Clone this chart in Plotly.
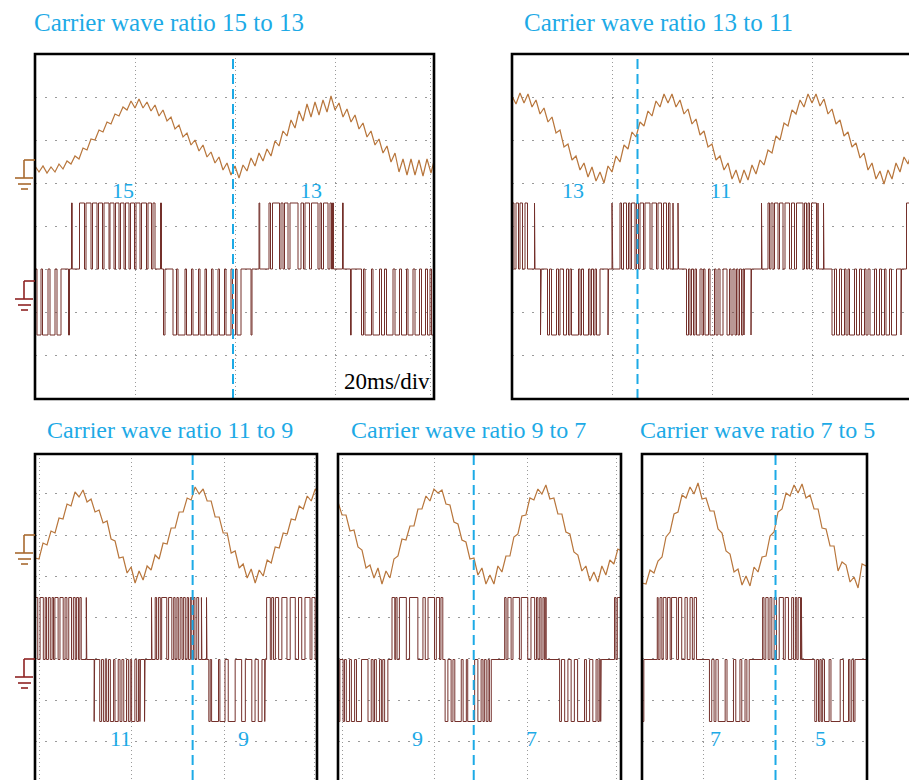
import numpy as np
import plotly.graph_objects as go

W, H = 909, 780

# ---------------- data ----------------
titles = ["Carrier wave ratio 15 to 13", "Carrier wave ratio 13 to 11",
          "Carrier wave ratio 11 to 9", "Carrier wave ratio 9 to 7",
          "Carrier wave ratio 7 to 5"]
ratio_labels = [("15", "13"), ("13", "11"), ("11", "9"), ("9", "7"), ("7", "5")]
ratio_label_t = [(17.6, 55.2), (12.2, 41.6), (18.4, 45.0), (17.2, 41.9), (15.8, 38.7)]
switch_t = [39.6, 25.1, 34.1, 29.4, 28.9]          # ms, carrier-ratio change instant
time_per_div = "20ms/div"

# current traces (screen units above frame bottom), sampled every cur_dt ms
cur_dt = [0.8, 0.8, 0.866, 0.866, 0.866]
cur1 = [233,227,233,226,232,227,235,230,238,235,
        243,240,251,249,260,259,269,267,277,275,
        285,283,292,289,298,291,300,291,297,288,
        294,283,289,278,282,270,274,262,266,254,
        259,248,254,242,247,236,242,229,236,224,
        233,221,234,228,241,233,246,238,250,243,
        258,253,268,263,279,271,288,278,295,282,
        297,284,299,287,303,289,296,282,290,277,
        284,270,276,262,268,254,260,246,253,237,
        246,227,240,224,240,224,239,223,240,226,
        242]
cur2 = [303,295,306,296,305,292,299,285,291,277,
        282,266,269,252,255,239,243,229,236,222,
        232,218,227,216,233,227,243,237,254,250,
        267,262,277,273,288,283,298,292,305,296,
        305,292,299,285,290,275,280,264,268,252,
        255,239,243,229,236,220,229,216,229,219,
        234,225,239,234,249,246,263,259,276,273,
        289,285,299,292,305,296,305,293,300,285,
        290,275,279,263,267,252,256,241,246,229,
        236,220,228,215,229,220,236,227,242,235,
        248]
cur3 = [227,226,242,240,254,252,267,266,281,279,
        293,288,295,283,286,273,275,262,264,246,
        244,227,228,212,218,202,214,205,219,215,
        230,226,242,241,257,257,273,273,287,285,
        298,291,296,284,284,268,268,252,252,232,
        234,217,221,207,216,202,215,209,225,222,
        238,237,252,251,266,265,279,276,289,284,
        296,291]
cur4 = [283,270,270,254,255,238,235,217,220,207,
        217,201,214,207,226,229,246,245,259,259,
        276,276,289,284,296,292,295,281,280,263,
        261,245,243,226,227,210,217,201,210,201,
        219,213,229,229,248,251,269,270,287,285,
        296,291,300,286,287,271,271,253,251,233,
        230,214,219,204,213,203,219,210,225,221,
        236,234]
cur5 = [202,201,215,212,224,228,248,253,271,273,
        290,287,298,291,302,286,287,274,274,256,
        252,234,231,213,216,200,209,199,218,213,
        228,229,249,253,273,276,292,289,300,292,
        301,287,290,276,276,257,256,239,239,214,
        223,220,203,208,197,221,219,230]

# PWM voltage pulses [t_on, t_off] in ms, positive (+1) and negative (-1)
pwm1_pos = [[7.3,7.45],[8.9,9.9],[10.2,11.2],[11.5,12.4],[12.7,13.5],[13.8,14.8],[15.0,15.8],
            [16.1,16.8],[17.1,17.8],[18.1,18.8],[19.1,19.9],[20.2,21.0],[21.3,22.3],[22.6,23.3],
            [23.6,24.0],[25.1,25.3],
            [44.8,44.95],[46.8,47.1],[47.5,48.9],[49.2,49.6],[49.9,50.6],[51.0,52.6],[53.2,53.7],
            [54.0,54.9],[55.3,56.6],[57.0,57.3],[57.7,58.6],[59.0,59.3],[59.5,59.7],[61.5,61.65]]
pwm1_neg = [[0.4,1.2],[1.5,2.6],[3.0,4.0],[4.4,5.2],[6.7,6.9],
            [25.7,26.0],[27.6,28.3],[28.6,30.0],[30.3,31.3],[31.6,32.7],[33.0,34.0],[34.3,35.3],
            [35.6,36.6],[36.9,37.9],[38.2,39.2],[39.5,40.1],[40.4,41.2],[43.2,43.4],
            [63.1,63.25],[65.3,65.7],[66.0,67.3],[67.6,68.9],[69.3,69.9],[70.3,71.6],[72.0,72.9],
            [73.3,74.3],[74.6,75.6],[76.0,76.9],[77.3,78.1],[78.5,79.0],[79.3,80.0]]
pwm2_pos = [[0.0,0.4],[0.8,1.3],[1.6,2.1],[2.6,3.1],[4.5,4.6],
            [20.0,20.15],[21.6,21.9],[22.3,22.9],[23.3,23.6],[23.9,24.6],[24.9,25.3],[25.6,26.3],
            [26.6,27.6],[28.0,28.9],[29.2,29.9],[30.3,30.9],[31.3,31.6],[32.2,32.3],[33.2,33.3],
            [49.9,50.0],[51.2,51.5],[51.8,52.2],[52.5,53.2],[53.5,54.2],[54.6,55.5],[55.9,56.5],
            [56.9,58.2],[58.5,58.9],[59.2,59.5],[59.9,60.9],[61.2,61.3],[62.3,62.4],
            [78.9,80.0]]
pwm2_neg = [[5.7,5.85],[7.1,7.5],[7.9,8.9],[9.3,9.6],[10.3,10.9],[11.3,11.6],[11.9,13.3],
            [13.6,13.9],[14.3,15.3],[15.6,15.9],[16.3,16.6],[16.9,17.6],[19.2,19.3],
            [34.9,35.3],[35.6,35.9],[36.3,36.6],[36.9,37.6],[38.0,38.3],[38.6,39.3],[39.6,40.5],
            [40.8,41.2],[41.6,42.2],[43.0,43.5],[43.8,44.2],[44.6,44.9],[45.2,45.5],[45.9,46.2],
            [46.4,46.5],[47.8,47.9],
            [64.0,64.5],[64.9,65.5],[65.9,66.5],[66.8,67.2],[67.5,68.5],[68.9,69.5],[69.9,70.5],
            [70.8,71.2],[71.6,72.5],[72.9,73.5],[73.9,74.5],[74.8,75.5],[75.9,76.9],[77.8,77.9]]
pwm3_pos = [[0.0,0.6],[1.1,1.8],[2.2,2.5],[2.9,3.3],[3.7,4.0],[4.3,5.0],[5.4,6.1],[6.5,6.9],
            [7.3,7.9],[8.3,8.7],[9.0,9.4],[9.7,10.0],[11.1,11.2],
            [25.2,25.3],[26.0,26.3],[26.7,27.1],[27.4,28.5],[28.9,29.6],[30.0,30.3],[30.7,31.0],
            [31.4,31.8],[32.1,32.5],[32.9,33.2],[33.6,33.9],[34.3,34.6],[35.0,35.4],[36.0,36.1],
            [37.1,37.2],
            [50.1,50.9],[51.2,51.6],[52.0,52.7],[53.4,54.5],[55.2,56.3],[57.0,57.7],[58.4,59.5],
            [59.9,60.6]]
pwm3_neg = [[12.8,12.9],[14.0,14.4],[14.8,15.2],[15.5,15.9],[16.3,17.0],[17.3,18.0],[18.4,18.8],
            [19.2,19.8],[20.2,20.6],[20.9,21.6],[22.0,22.4],[22.7,22.8],[23.7,23.8],
            [37.6,37.9],[38.2,39.7],[40.0,41.1],[41.8,43.3],[44.7,45.5],[46.9,47.6],[48.3,49.1],
            [49.7,49.8]]
pwm4_pos = [[11.7,12.3],[12.5,12.8],[13.3,14.8],[15.5,17.3],[18.4,18.9],[19.5,20.9],[21.3,22.0],
            [22.3,22.7],
            [36.1,36.4],[36.8,37.5],[37.9,39.3],[39.7,41.1],[41.8,42.6],[43.0,43.3],[43.7,44.0],
            [44.4,44.7],[44.9,45.1],
            [59.9,60.2],[60.5,61.3]]
pwm4_neg = [[0.0,0.4],[1.1,1.4],[1.8,2.5],[2.9,3.6],[4.0,5.1],[6.5,7.2],[7.6,7.9],[8.3,9.0],
            [9.4,9.7],[10.1,10.8],
            [23.2,23.8],[24.5,24.9],[25.3,26.7],[27.1,27.8],[28.1,29.6],[30.3,31.0],[31.4,31.7],
            [32.1,32.5],[32.8,33.2],
            [48.0,48.4],[49.1,49.8],[50.5,51.2],[51.9,53.4],[53.8,54.5],[55.2,55.9],[56.3,56.6],
            [56.9,57.0]]
pwm5_pos = [[3.3,3.5],[3.9,4.3],[4.6,5.2],[5.5,6.1],[6.4,7.5],[7.9,8.6],[9.3,9.8],[10.4,10.9],
            [11.3,11.8],
            [26.1,26.4],[26.8,27.3],[27.7,28.1],[28.6,29.1],[29.7,30.6],[31.0,31.7],[32.4,32.8],
            [33.2,33.5],[33.8,34.3],[34.5,34.6]]
pwm5_neg = [[0.0,0.4],
            [14.6,15.1],[15.6,16.0],[16.5,18.0],[18.4,19.8],[20.3,21.2],[21.6,22.3],[22.7,23.2],
            [37.4,37.8],[38.2,38.5],[38.8,39.1],[39.5,40.5],[40.9,42.9],[43.6,44.7],[45.0,45.4],
            [45.8,46.1]]

currents = [cur1, cur2, cur3, cur4, cur5]
pwms = [(pwm1_pos, pwm1_neg), (pwm2_pos, pwm2_neg), (pwm3_pos, pwm3_neg),
        (pwm4_pos, pwm4_neg), (pwm5_pos, pwm5_neg)]

# ---------------- layout geometry / styling ----------------
panels = [
    dict(l=35, r=434, t=54, b=399, xr=[0, 79.8], yr=[0, 345], gx=[20, 40, 60, 79.0],
         gy=[43.1 * k for k in range(1, 8)], zero=130, amp=66, open_right=False, open_bottom=False,
         lab_h=208),
    dict(l=512, r=909, t=54, b=399, xr=[0, 79.4], yr=[0, 345], gx=[20, 40, 60],
         gy=[43.1 * k for k in range(1, 8)], zero=130, amp=66, open_right=True, open_bottom=False,
         lab_h=208),
    dict(l=35, r=317, t=454, b=780, xr=[0, 61.0], yr=[5, 331], gx=[0.9, 20.9, 40.9, 60.4],
         gy=[43.5, 85, 126.5, 168, 209, 250, 291.5], zero=125.5, amp=62, open_right=False,
         open_bottom=True, lab_h=47),
    dict(l=338, r=621, t=454, b=780, xr=[0, 61.3], yr=[5, 331], gx=[1.0, 21.0, 41.0, 60.3],
         gy=[43.5, 85, 126.5, 168, 209, 250, 291.5], zero=125.5, amp=62, open_right=False,
         open_bottom=True, lab_h=47),
    dict(l=642, r=867, t=454, b=780, xr=[0, 48.7], yr=[5, 331], gx=[13.3, 33.3],
         gy=[43.5, 85, 126.5, 168, 209, 250, 291.5], zero=125.5, amp=62, open_right=False,
         open_bottom=True, lab_h=47),
]
title_pos = [(32, 22), (522, 22), (45, 430), (349, 430), (638, 430)]
title_size = [25, 25, 24, 24, 24]

CUR_COLOR = "#B8763C"
PWM_COLOR = "#74302B"
CYAN = "#1DAAE6"
GRID = "#9a9a9a"
FONT = "Liberation Serif"


def pwm_xy(pos, neg, t_end):
    ev = sorted([(a, b, 1) for a, b in pos] + [(a, b, -1) for a, b in neg])
    xs, ys = [0.0], [0]
    for a, b, s in ev:
        xs += [a, a, b, b]
        ys += [0, s, s, 0]
    xs.append(t_end)
    ys.append(0)
    return np.array(xs), np.array(ys)


fig = go.Figure()
layout = dict(width=W, height=H, margin=dict(l=0, r=0, t=0, b=0),
              paper_bgcolor="white", plot_bgcolor="white", showlegend=False)
shapes, annotations = [], []

for i, p in enumerate(panels):
    n = i + 1
    xa = "x" if n == 1 else f"x{n}"
    ya = "y" if n == 1 else f"y{n}"
    # current trace
    cur = currents[i]
    tc = np.arange(len(cur)) * cur_dt[i]
    fig.add_trace(go.Scatter(x=tc, y=cur, mode="lines", xaxis=xa, yaxis=ya,
                             line=dict(color=CUR_COLOR, width=1.2), hoverinfo="skip"))
    # pwm trace
    px_, py_ = pwm_xy(pwms[i][0], pwms[i][1], p["xr"][1] + 1)
    fig.add_trace(go.Scatter(x=px_, y=p["zero"] + p["amp"] * py_, mode="lines",
                             xaxis=xa, yaxis=ya,
                             line=dict(color=PWM_COLOR, width=1), hoverinfo="skip"))
    # switching instant
    fig.add_trace(go.Scatter(x=[switch_t[i], switch_t[i]], y=p["yr"], mode="lines",
                             xaxis=xa, yaxis=ya,
                             line=dict(color=CYAN, width=2, dash="10px,5px"), hoverinfo="skip"))
    # axes
    xd = [p["l"] / W, min(p["r"] / W, 1.0)]
    yd = [max(0.0, 1 - p["b"] / H), 1 - p["t"] / H]
    layout["xaxis" if n == 1 else f"xaxis{n}"] = dict(
        domain=xd, range=p["xr"], anchor=ya, showticklabels=False, ticks="",
        tickvals=p["gx"], showgrid=True, gridcolor=GRID, griddash="1px,3px", gridwidth=1,
        zeroline=False, showline=False, fixedrange=True)
    layout["yaxis" if n == 1 else f"yaxis{n}"] = dict(
        domain=yd, range=p["yr"], anchor=xa, showticklabels=False, ticks="",
        tickvals=p["gy"], showgrid=True, gridcolor=GRID, griddash="2px,8px", gridwidth=1,
        zeroline=False, showline=False, fixedrange=True)
    # frame
    shapes.append(dict(type="rect", xref=f"{xa} domain", yref=f"{ya} domain",
                       x0=0, x1=1.05 if p["open_right"] else 1,
                       y0=-0.1 if p["open_bottom"] else 0, y1=1,
                       line=dict(color="black", width=2.6), fillcolor="rgba(0,0,0,0)",
                       layer="above"))
    # titles
    tx, ty = title_pos[i]
    annotations.append(dict(text=titles[i], xref="paper", yref="paper", x=tx / W, y=1 - ty / H,
                            xanchor="left", yanchor="middle", showarrow=False,
                            font=dict(family=FONT, size=title_size[i], color=CYAN)))
    # ratio labels
    for lab, lt in zip(ratio_labels[i], ratio_label_t[i]):
        annotations.append(dict(text=lab, xref=xa, yref=ya, x=lt, y=p["lab_h"],
                                xanchor="center", yanchor="middle", showarrow=False,
                                font=dict(family=FONT, size=22, color=CYAN)))

annotations.append(dict(text=time_per_div, xref="paper", yref="paper", x=432 / W, y=1 - 381 / H,
                        xanchor="right", yanchor="middle", showarrow=False,
                        font=dict(family=FONT, size=23, color="black")))


# ground markers (channel reference symbols)
def ground(top, color):
    segs = [(24, top, 35, top), (24, top, 24, top + 18),
            (15, top + 18, 33, top + 18), (18, top + 24, 31, top + 24), (21, top + 29, 28, top + 29)]
    for x0, y0, x1, y1 in segs:
        shapes.append(dict(type="line", xref="paper", yref="paper",
                           x0=x0 / W, x1=x1 / W, y0=1 - y0 / H, y1=1 - y1 / H,
                           line=dict(color=color, width=1.6)))


ground(160, "#A8692F")
ground(281, "#8E2222")
ground(535, "#A8692F")
ground(659, "#8E2222")

layout["shapes"] = shapes
layout["annotations"] = annotations
fig.update_layout(**layout)
fig.write_html("out.html")
